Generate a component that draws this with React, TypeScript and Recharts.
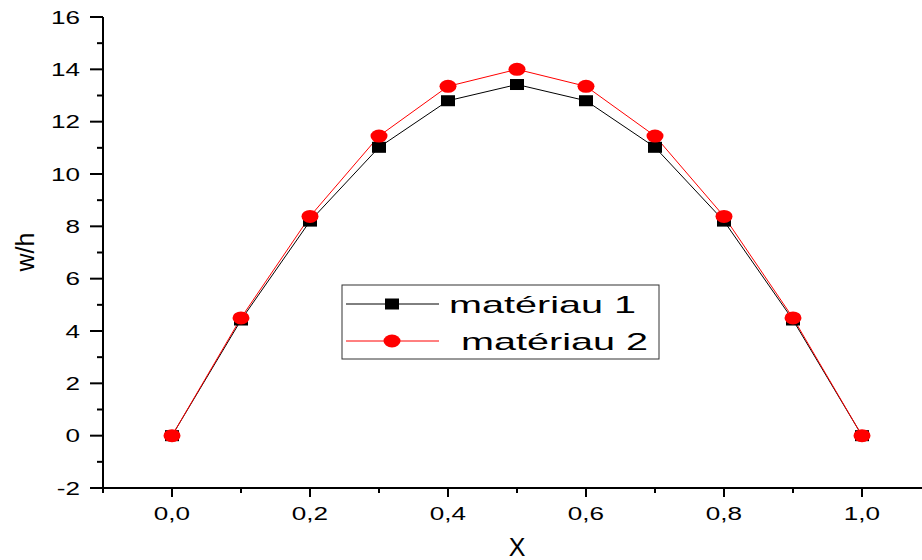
import { LineChart, Line, XAxis, YAxis } from 'recharts';

const xValues = [0, 0.1, 0.2, 0.3, 0.4, 0.5, 0.6, 0.7, 0.8, 0.9, 1.0];
const materiau1 = [0, 4.42, 8.2, 11.02, 12.8, 13.42, 12.8, 11.02, 8.2, 4.42, 0];
const materiau2 = [0, 4.5, 8.38, 11.45, 13.35, 14.0, 13.35, 11.45, 8.38, 4.5, 0];
const xTicks = [-0.1, 0, 0.1, 0.2, 0.3, 0.4, 0.5, 0.6, 0.7, 0.8, 0.9, 1.0, 1.1];
const yTicks = [-2, -1, 0, 1, 2, 3, 4, 5, 6, 7, 8, 9, 10, 11, 12, 13, 14, 15, 16];
const seriesNames = ['matériau 1', 'matériau 2'];

const data = xValues.map((x, i) => ({ x, m1: materiau1[i], m2: materiau2[i] }));

const FONT = 'Liberation Sans, Arial, sans-serif';

// ticks majeurs avec étiquette, mineurs sans
const XTick = (props: any) => {
  const { x, y, payload } = props;
  const v = payload.value;
  const major = Math.round(v * 10) % 2 === 0;
  return (
    <g>
      <line x1={x} x2={x} y1={y} y2={y + (major ? 9 : 5)} stroke="#000" strokeWidth={2} />
      {major && v >= 0 && v <= 1 && (
        <text
          transform={`translate(${x},${y + 32}) scale(1.45,1)`}
          textAnchor="middle"
          fontSize={18}
          fontFamily={FONT}
          fill="#000"
        >
          {v.toFixed(1).replace('.', ',')}
        </text>
      )}
    </g>
  );
};

const YTick = (props: any) => {
  const { x, y, payload } = props;
  const v = payload.value;
  const major = v % 2 === 0;
  return (
    <g>
      <line x1={x - (major ? 13 : 6)} x2={x} y1={y} y2={y} stroke="#000" strokeWidth={2} />
      {major && (
        <text
          transform={`translate(${x - 23},${y + 6.5}) scale(1.45,1)`}
          textAnchor="end"
          fontSize={18}
          fontFamily={FONT}
          fill="#000"
        >
          {v}
        </text>
      )}
    </g>
  );
};

const SquareDot = (props: any) => {
  const { cx, cy } = props;
  if (cx == null || cy == null) return null;
  return <rect x={cx - 7} y={cy - 5.5} width={14} height={11} fill="#000" />;
};

const CircleDot = (props: any) => {
  const { cx, cy } = props;
  if (cx == null || cy == null) return null;
  return <ellipse cx={cx} cy={cy} rx={8.5} ry={6.5} fill="#ff0000" />;
};

// légende encadrée, placée à la main comme dans l'original
const LegendBox = () => (
  <svg width={320} height={77} style={{ position: 'absolute', left: 341, top: 284 }}>
    <rect x={1} y={1} width={317} height={74} fill="#fff" stroke="#333" strokeWidth={1} />
    <line x1={5} x2={98} y1={20} y2={20} stroke="#000" strokeWidth={1} />
    <rect x={44} y={14.5} width={14} height={11} fill="#000" />
    <text transform="translate(108,29) scale(1.65,1)" fontSize={24} fontFamily={FONT} fill="#000">
      {seriesNames[0]}
    </text>
    <line x1={5} x2={98} y1={57} y2={57} stroke="#ff0000" strokeWidth={1} />
    <ellipse cx={51} cy={57} rx={8.5} ry={6.5} fill="#ff0000" />
    <text transform="translate(120,66) scale(1.65,1)" fontSize={24} fontFamily={FONT} fill="#000">
      {seriesNames[1]}
    </text>
  </svg>
);

export default function App() {
  return (
    <div style={{ position: 'absolute', left: 0, top: 0, width: 922, height: 560, overflow: 'hidden', background: '#fff' }}>
      <LineChart width={940} height={560} data={data} margin={{ top: 17, right: 9, bottom: 0, left: 0 }}>
        <XAxis
          dataKey="x"
          type="number"
          domain={[-0.1, 1.1]}
          ticks={xTicks}
          interval={0}
          tick={<XTick />}
          tickLine={false}
          tickSize={0}
          tickMargin={0}
          height={72}
          axisLine={{ stroke: '#000', strokeWidth: 2 }}
          allowDataOverflow
          label={{
            content: () => (
              <text x={517} y={556} textAnchor="middle" fontSize={25} fontFamily={FONT} fill="#000">
                X
              </text>
            ),
          }}
        />
        <YAxis
          type="number"
          domain={[-2, 16]}
          ticks={yTicks}
          interval={0}
          tick={<YTick />}
          tickLine={false}
          tickSize={0}
          tickMargin={0}
          width={103}
          axisLine={{ stroke: '#000', strokeWidth: 2 }}
          allowDataOverflow
          label={{
            content: () => (
              <text
                x={34}
                y={252}
                transform="rotate(-90 34 252)"
                textAnchor="middle"
                fontSize={25}
                fontFamily={FONT}
                fill="#000"
              >
                w/h
              </text>
            ),
          }}
        />
        <Line
          dataKey="m1"
          name={seriesNames[0]}
          stroke="#000"
          strokeWidth={1}
          dot={<SquareDot />}
          activeDot={false}
          isAnimationActive={false}
        />
        <Line
          dataKey="m2"
          name={seriesNames[1]}
          stroke="#ff0000"
          strokeWidth={1}
          dot={<CircleDot />}
          activeDot={false}
          isAnimationActive={false}
        />
      </LineChart>
      <LegendBox />
    </div>
  );
}
